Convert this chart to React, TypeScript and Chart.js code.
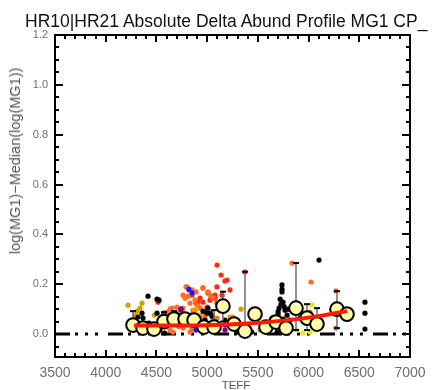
import React, { useEffect, useRef } from "react";
import { Chart, registerables } from "chart.js";

Chart.register(...registerables);

const titleText = "HR10|HR21 Absolute Delta Abund Profile MG1 CP_";
const xTitle = "TEFF";
const yTitle = "log(MG1)\u2212Median(log(MG1))";

const xTicks = [3500, 4000, 4500, 5000, 5500, 6000, 6500, 7000];
const yTicks = [0.0, 0.2, 0.4, 0.6, 0.8, 1.0, 1.2];
const xMinorStep = 100;
const yMinorStep = 0.05;

const blackPts: [number, number][] = [
  [4417, 0.152], [4506, 0.14], [4506, 0.084], [4358, 0.084], [4368, 0.064],
  [4318, 0.068], [4427, 0.044], [4535, 0.016], [4960, 0.092], [4999, 0.084],
  [5048, 0.072], [4979, 0.056], [5176, 0.056], [5738, 0.197], [5738, 0.18],
  [5738, 0.169], [5748, 0.128], [5728, 0.12], [5709, 0.104], [5768, 0.096],
  [5699, 0.08], [5788, 0.076], [5640, 0.064], [5817, 0.056], [6103, 0.297],
  [6556, 0.128], [6556, 0.084], [6556, 0.02], [5916, 0.064], [5290, 0.008],
  [5340, 0.006], [5440, 0.008], [5590, 0.006], [5690, 0.008], [4440, 0.01],
  [4526, 0.136], [5009, 0.104], [5028, 0.084], [5078, 0.048], [4580, 0.004],
  [5720, 0.14], [5760, 0.11], [5700, 0.09], [5750, 0.06], [5680, 0.05], [5800, 0.1],
];
const orangePts: [number, number][] = [
  [4604, 0.088], [4634, 0.1], [4654, 0.072], [4683, 0.056], [4703, 0.108],
  [4733, 0.084], [4762, 0.104], [4792, 0.189], [4812, 0.152], [4831, 0.124],
  [4861, 0.096], [4881, 0.136], [4910, 0.112], [4930, 0.076], [4890, 0.169],
  [5837, 0.285], [6024, 0.209], [6014, 0.088], [6270, 0.173], [6270, 0.024],
  [4772, 0.036], [4634, 0.016], [4720, 0.03], [4850, 0.02],
  [4802, 0.189], [4851, 0.177], [4762, 0.156], [4782, 0.144], [4959, 0.185],
  [5009, 0.169], [5028, 0.156], [5058, 0.144], [4900, 0.116], [4930, 0.104],
  [4654, 0.104], [4703, 0.084], [4752, 0.096], [4634, 0.068], [4802, 0.068],
  [4861, 0.084], [4930, 0.064], [4979, 0.068], [5048, 0.084], [5097, 0.064],
  [5147, 0.104], [4663, 0.008], [4831, 0.008], [4762, 0.024],
];
const redPts: [number, number][] = [
  [5097, 0.277], [5137, 0.237], [5176, 0.213], [5196, 0.217], [5225, 0.177],
  [4959, 0.185], [5008, 0.165], [5048, 0.148], [5077, 0.156], [5097, 0.124],
  [4999, 0.108], [5028, 0.136], [4930, 0.144], [4890, 0.124], [4821, 0.177],
  [4851, 0.156], [4979, 0.088], [5127, 0.096], [5373, 0.249], [4516, 0.128],
  [4338, 0.036], [5097, 0.189], [4910, 0.128], [4959, 0.128], [5147, 0.156],
  [5078, 0.144],
];
const goldPts: [number, number][] = [
  [4220, 0.116], [4358, 0.124], [4338, 0.104], [4309, 0.092], [4289, 0.076],
  [5334, 0.1], [4881, 0.096], [5057, 0.064], [5225, 0.068], [5521, 0.016],
  [4480, 0.076], [5255, 0.068],
];
const yellowPts: [number, number][] = [
  [6034, 0.116], [5886, 0.016], [5945, 0.004], [6014, 0.008], [6073, 0.016],
  [5452, 0.064], [4910, 0.076], [4880, 0.1],
];
const purplePts: [number, number][] = [
  [4575, 0.084], [4743, 0.1], [4910, 0.056], [5176, 0.016], [4740, 0.1],
];
const bluePts: [number, number][] = [
  [4851, 0.165], [5176, 0.036], [4890, 0.016], [4820, 0.18],
];

const binTeff = [4269, 4368, 4476, 4575, 4673, 4782, 4871, 4969, 5068, 5156, 5265, 5373, 5472, 5580, 5679, 5778, 5876, 5985, 6083, 6280, 6379];
const binValue = [0.036, 0.024, 0.02, 0.05, 0.06, 0.06, 0.056, 0.028, 0.028, 0.112, 0.04, 0.012, 0.08, 0.028, 0.048, 0.024, 0.104, 0.064, 0.04, 0.1, 0.08];

const errTeff = [4269, 4575, 4673, 5068, 5156, 5373, 5876, 5985, 6083, 6280];
const errLo = [0.016, 0.03, 0.04, 0.01, 0.05, 0.0, 0.016, 0.016, 0.02, 0.024];
const errHi = [0.092, 0.088, 0.092, 0.096, 0.17, 0.25, 0.285, 0.12, 0.104, 0.172];

const trendTeff = [4280, 4600, 5000, 5400, 5800, 6100, 6380];
const trendValue = [0.034, 0.034, 0.035, 0.042, 0.056, 0.072, 0.092];

const zeroTeff = [3500, 7000];

const toXY = (pts: [number, number][]) => pts.map(([x, y]) => ({ x, y }));

const framePlugin = {
  id: "frameTicks",
  afterDraw(chart: any) {
    const { ctx, chartArea, scales } = chart;
    const { left, right, top, bottom } = chartArea;
    const xs = scales.x;
    const ys = scales.y;
    ctx.save();
    ctx.strokeStyle = "#000";
    ctx.lineWidth = 2;
    ctx.strokeRect(left, top, right - left, bottom - top);
    const x0 = xTicks[0];
    const x1 = xTicks[xTicks.length - 1];
    for (let v = x0; v <= x1 + 1e-6; v += xMinorStep) {
      const major = xTicks.some((t) => Math.abs(t - v) < 1e-6);
      const len = major ? 7 : 4;
      const px = Math.round(xs.getPixelForValue(v));
      ctx.beginPath();
      ctx.moveTo(px, bottom);
      ctx.lineTo(px, bottom - len);
      ctx.moveTo(px, top);
      ctx.lineTo(px, top + len);
      ctx.stroke();
    }
    for (let v = -0.05; v <= yTicks[yTicks.length - 1] + 1e-6; v += yMinorStep) {
      const major = yTicks.some((t) => Math.abs(t - v) < 1e-6);
      const len = major ? 8 : 4;
      const py = Math.round(ys.getPixelForValue(v));
      ctx.beginPath();
      ctx.moveTo(left, py);
      ctx.lineTo(left + len, py);
      ctx.moveTo(right, py);
      ctx.lineTo(right - len, py);
      ctx.stroke();
    }
    ctx.restore();
  },
};

export default function App() {
  const ref = useRef<HTMLCanvasElement | null>(null);
  useEffect(() => {
    if (!ref.current) return;
    const errData: any[] = [];
    errTeff.forEach((t, i) => {
      errData.push({ x: t, y: errLo[i] });
      errData.push({ x: t, y: errHi[i] });
      errData.push({ x: t, y: null });
    });
    const dot = (pts: [number, number][], color: string, order: number) => ({
      type: "scatter" as const,
      data: toXY(pts),
      pointRadius: 2.6,
      pointBackgroundColor: color,
      pointBorderWidth: 0,
      borderColor: color,
      order,
    });
    const chart = new Chart(ref.current, {
      type: "scatter",
      data: {
        datasets: [
          {
            type: "line",
            data: zeroTeff.map((x) => ({ x, y: 0 })),
            borderColor: "#000",
            borderWidth: 3,
            borderDash: [15, 5, 3, 7, 3, 7, 3, 10],
            pointRadius: 0,
            order: 9,
          } as any,
          dot(blackPts, "#000000", 5),
          dot(goldPts, "#d4a000", 6),
          dot(yellowPts, "#e6e61a", 6),
          dot(orangePts, "#ff6e22", 7),
          dot(redPts, "#ff2a0a", 7),
          dot(purplePts, "#800090", 4),
          dot(bluePts, "#1a1aff", 4),
          {
            type: "line",
            data: errData,
            borderColor: "#6e6e6e",
            borderWidth: 1.5,
            spanGaps: false,
            pointStyle: "line",
            pointRadius: 3,
            pointBorderColor: "#000",
            pointBorderWidth: 2,
            order: 3,
          } as any,
          {
            type: "scatter",
            data: binTeff.map((x, i) => ({ x, y: binValue[i] })),
            pointRadius: 6.8,
            pointBackgroundColor: "#ffffaa",
            pointBorderColor: "#000",
            pointBorderWidth: 2,
            order: 2,
          } as any,
          {
            type: "line",
            data: trendTeff.map((x, i) => ({ x, y: trendValue[i] })),
            borderColor: "#ff1a00",
            borderWidth: 4,
            tension: 0.4,
            pointRadius: 0,
            order: 1,
          } as any,
        ],
      },
      options: {
        animation: false,
        responsive: false,
        devicePixelRatio: 1,
        layout: { padding: { top: 35, right: 26, left: 0, bottom: 0 } },
        plugins: { legend: { display: false }, tooltip: { enabled: false }, title: { display: false } },
        events: [],
        scales: {
          x: {
            type: "linear",
            min: 3500,
            max: 7000,
            grid: { display: false, drawTicks: false },
            border: { display: false },
            afterFit: (s: any) => { s.height = 33; },
            afterBuildTicks: (s: any) => { s.ticks = xTicks.map((v) => ({ value: v })); },
            ticks: {
              color: "#707070",
              font: { family: "'Liberation Sans', Arial, sans-serif", size: 14 },
              padding: 8,
              maxRotation: 0,
              autoSkip: false,
              callback: (v: any) => String(v),
            },
          },
          y: {
            type: "linear",
            min: -0.092,
            max: 1.2,
            grid: { display: false, drawTicks: false },
            border: { display: false },
            afterFit: (s: any) => { s.width = 55; },
            afterBuildTicks: (s: any) => { s.ticks = yTicks.map((v) => ({ value: v })); },
            ticks: {
              color: "#707070",
              font: { family: "'Liberation Sans', Arial, sans-serif", size: 11 },
              padding: 7,
              autoSkip: false,
              callback: (v: any) => Number(v).toFixed(1),
            },
          },
        },
      } as any,
      plugins: [framePlugin],
    });
    return () => chart.destroy();
  }, []);

  return (
    <div style={{ position: "fixed", left: 0, top: 0, width: 436, height: 390, overflow: "hidden", background: "#fff" }}>
      <canvas ref={ref} width={436} height={390} style={{ position: "absolute", left: 0, top: 0, width: 436, height: 390 }} />
      <div style={{ position: "absolute", left: 25, top: 11, whiteSpace: "nowrap", fontFamily: "'Liberation Sans', Arial, sans-serif", fontSize: 17.5, color: "#111" }}>
        {titleText}
      </div>
      <div style={{ position: "absolute", left: 236, top: 379, transform: "translateX(-50%)", whiteSpace: "nowrap", fontFamily: "'Liberation Sans', Arial, sans-serif", fontSize: 11.5, color: "#555" }}>
        {xTitle}
      </div>
      <div style={{ position: "absolute", left: 15, top: 161, transform: "translate(-50%, -50%) rotate(-90deg)", whiteSpace: "nowrap", fontFamily: "'Liberation Sans', Arial, sans-serif", fontSize: 14.5, color: "#555" }}>
        {yTitle}
      </div>
    </div>
  );
}
